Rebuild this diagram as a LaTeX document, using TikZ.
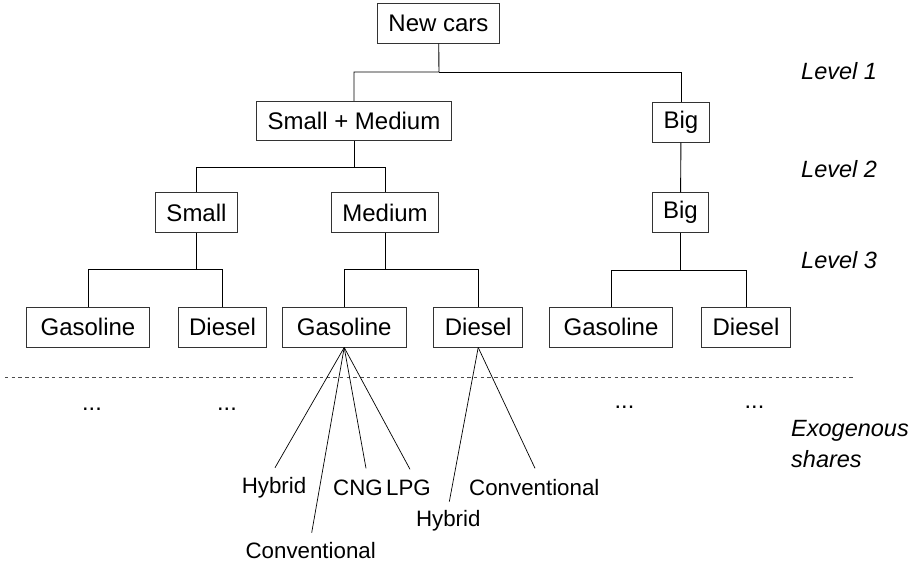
\documentclass[tikz,border=0pt]{standalone}
\usepackage{fontspec}
\setmainfont{Liberation Sans}

\begin{document}
\begin{tikzpicture}[x=1pt, y=-1pt,
    box/.style={rectangle, draw=black!80, line width=0.9pt, minimum height=39.5pt, inner xsep=11pt, font=\fontsize{24}{28}\selectfont},
    fuel/.style={box, minimum width=123.5pt},
    tree/.style={line width=0.9pt},
    share/.style={line width=0.7pt},
    lbl/.style={inner sep=0pt, font=\fontsize{22.3}{26}\selectfont},
    lvl/.style={anchor=west, inner sep=0pt, font=\fontsize{23.5}{28}\selectfont\itshape},
    more/.style={inner sep=0pt, font=\fontsize{23.5}{28}\selectfont}
]
\useasboundingbox (0,0) rectangle (921,567);

% Level 1
\node[box] (newcars) at (438.5, 23.5) {New cars};
\node[box] (smed) at (354, 121) {Small + Medium};
\node[box] (big1) at (681, 122.5) {Big};
\coordinate (j1) at (439, 72);
\draw[tree] (newcars) -- (j1) -| (smed);
\draw[tree] (j1) -| (big1);

% Level 2
\node[box] (small) at (196.5, 212.5) {Small};
\node[box] (medium) at (385, 212.5) {Medium};
\node[box] (big2) at (680.5, 212.5) {Big};
\coordinate (j2) at (354, 167);
\draw[tree] (smed) -- (j2) -| (small);
\draw[tree] (j2) -| (medium);
\draw[tree] (big1) -- (big2);

% Level 3
\node[fuel] (gas1) at (88, 327.3) {Gasoline};
\node[box] (dsl1) at (222.5, 327.3) {Diesel};
\node[fuel] (gas2) at (344.2, 327.3) {Gasoline};
\node[box] (dsl2) at (478.2, 327.3) {Diesel};
\node[fuel] (gas3) at (611, 327.3) {Gasoline};
\node[box] (dsl3) at (746, 327.3) {Diesel};
\coordinate (j3) at (196.5, 269.5);
\coordinate (j4) at (385, 269.5);
\coordinate (j5) at (680.5, 270);
\draw[tree] (small) -- (j3) -| (gas1);
\draw[tree] (j3) -| (dsl1);
\draw[tree] (medium) -- (j4) -| (gas2);
\draw[tree] (j4) -| (dsl2);
\draw[tree] (big2) -- (j5) -| (gas3);
\draw[tree] (j5) -| (dsl3);

% Exogenous split
\draw[black!70, line width=0.8pt, dash pattern=on 3.4pt off 3.3pt] (5, 377.5) -- (855, 377.5);
\node[more] (m1) at (92, 409) {...};
\node[more] (m2) at (227, 409) {...};
\node[more] (m3) at (624.5, 407) {...};
\node[more] (m4) at (754.5, 407) {...};

% Technology shares
\node[lbl] (hyb1) at (274, 488) {Hybrid};
\node[lbl] (cng) at (358, 488) {CNG};
\node[lbl] (lpg) at (408.5, 488) {LPG};
\node[lbl] (conv1) at (310.7, 551) {Conventional};
\node[lbl] (hyb2) at (448.3, 520.5) {Hybrid};
\node[lbl] (conv2) at (534.3, 488) {Conventional};
\coordinate (e1) at (275, 467.7);
\coordinate (e2) at (311.7, 532.7);
\coordinate (e3) at (366, 468.3);
\coordinate (e4) at (410, 469.3);
\coordinate (e5) at (449.3, 501.7);
\coordinate (e6) at (535, 468.3);
\foreach \e in {e1,e2,e3,e4}
  \draw[share] (gas2.south) -- (\e);
\foreach \e in {e5,e6}
  \draw[share] (dsl2.south) -- (\e);

% Levels
\node[lvl] (lv1) at (801, 71) {Level 1};
\node[lvl] (lv2) at (801, 169.3) {Level 2};
\node[lvl] (lv3) at (801, 260) {Level 3};
\node[lvl, align=left] (exo) at (791, 444) {Exogenous\\[3.5pt]shares};

\end{tikzpicture}
\end{document}
